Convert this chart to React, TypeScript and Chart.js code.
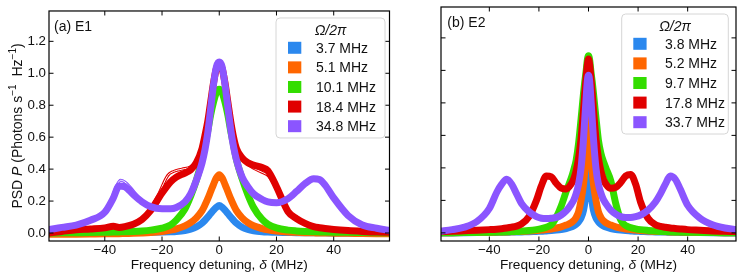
import { useEffect, useRef } from "react";
import { Chart, registerables } from "chart.js";

Chart.register(...registerables);

// ---------------- data ----------------
const X_TICKS = [-40, -20, 0, 20, 40];
const Y_TICKS = [0, 0.2, 0.4, 0.6, 0.8, 1.0, 1.2];
const X_MIN = -59.5;
const X_MAX = 59.5;
const Y_MIN = -0.05;
const Y_MAX = 1.39;

const E1_LABELS = ["3.7 MHz", "5.1 MHz", "10.1 MHz", "18.4 MHz", "34.8 MHz"];
const E2_LABELS = ["3.8 MHz", "5.2 MHz", "9.7 MHz", "17.8 MHz", "33.7 MHz"];

// Panel (a) E1 : detuning (MHz)
const E1_X = [-60, -55, -50, -45, -40, -37, -35, -33, -30, -27, -24, -20, -17, -15, -12, -10, -8, -6, -5, -4, -3, -2, -1, 0, 1, 2, 3, 4, 5, 6, 8, 10, 12, 15, 17, 20, 24, 27, 30, 33, 35, 37, 40, 45, 50, 55, 60];
const E1_BLUE = [0.0, 0.0, 0.0, 0.0, 0.001, 0.001, 0.002, 0.002, 0.003, 0.003, 0.004, 0.006, 0.008, 0.01, 0.016, 0.024, 0.038, 0.062, 0.08, 0.1, 0.122, 0.143, 0.161, 0.172, 0.161, 0.143, 0.122, 0.1, 0.08, 0.062, 0.036, 0.022, 0.014, 0.008, 0.006, 0.004, 0.003, 0.002, 0.002, 0.001, 0.001, 0.001, 0.0, 0.0, 0.0, 0.0, 0.0];
const E1_ORANGE = [-0.008, -0.008, -0.007, -0.006, -0.005, -0.004, -0.004, -0.003, -0.002, 0.0, 0.003, 0.01, 0.018, 0.026, 0.045, 0.065, 0.095, 0.14, 0.175, 0.215, 0.26, 0.305, 0.345, 0.365, 0.345, 0.305, 0.26, 0.215, 0.175, 0.14, 0.095, 0.065, 0.045, 0.028, 0.02, 0.012, 0.006, 0.004, 0.002, 0.001, 0.0, 0.0, -0.001, -0.002, -0.003, -0.004, -0.005];
const E1_GREEN = [0.0, 0.001, 0.002, 0.003, 0.005, 0.006, 0.007, 0.008, 0.01, 0.013, 0.018, 0.03, 0.05, 0.08, 0.15, 0.23, 0.33, 0.46, 0.55, 0.64, 0.74, 0.82, 0.88, 0.9, 0.88, 0.82, 0.74, 0.64, 0.55, 0.46, 0.34, 0.24, 0.16, 0.085, 0.055, 0.032, 0.018, 0.013, 0.01, 0.008, 0.007, 0.006, 0.005, 0.004, 0.003, 0.002, 0.001];
const E1_RED = [0.0, 0.01, 0.02, 0.025, 0.032, 0.042, 0.035, 0.04, 0.055, 0.085, 0.14, 0.25, 0.32, 0.35, 0.375, 0.395, 0.44, 0.53, 0.61, 0.7, 0.82, 0.94, 1.03, 1.06, 1.03, 0.94, 0.82, 0.7, 0.6, 0.53, 0.47, 0.44, 0.425, 0.41, 0.39, 0.29, 0.135, 0.09, 0.06, 0.04, 0.033, 0.028, 0.022, 0.015, 0.01, 0.006, 0.004];
const E1_PURPLE = [0.02, 0.035, 0.05, 0.08, 0.13, 0.22, 0.295, 0.29, 0.24, 0.195, 0.165, 0.152, 0.152, 0.16, 0.195, 0.245, 0.33, 0.44, 0.52, 0.63, 0.78, 0.93, 1.04, 1.07, 1.04, 0.93, 0.79, 0.65, 0.54, 0.46, 0.35, 0.29, 0.245, 0.21, 0.195, 0.19, 0.215, 0.26, 0.31, 0.34, 0.335, 0.3, 0.22, 0.11, 0.05, 0.03, 0.015];

// thin theory curves visible in panel (a)
const E1_FIT_PURPLE_X = [-44, -41, -38, -36, -34.5, -33, -31, -28, -25, -22, -19];
const E1_FIT_PURPLE_Y = [0.09, 0.125, 0.2, 0.29, 0.33, 0.32, 0.285, 0.22, 0.175, 0.155, 0.15];
const E1_FIT_RED_L_X = [-24, -21, -18, -16, -13, -10, -8, -6];
const E1_FIT_RED_L_Y = [0.15, 0.25, 0.36, 0.385, 0.4, 0.415, 0.45, 0.53];
const E1_FIT_RED_R_X = [6, 8, 10, 12, 15, 17, 19, 21];
const E1_FIT_RED_R_Y = [0.52, 0.46, 0.43, 0.405, 0.38, 0.36, 0.31, 0.24];

// Panel (b) E2 : detuning (MHz)
const E2_X = [-60, -55, -50, -45, -40, -37, -35, -33, -31, -29, -27, -24, -21, -19, -17, -15, -13, -11, -9, -7, -6, -5, -4, -3, -2, -1.5, -1, -0.5, 0, 0.5, 1, 1.5, 2, 3, 4, 5, 6, 7, 9, 11, 13, 15, 17, 19, 21, 24, 27, 29, 31, 33, 35, 37, 40, 45, 50, 55, 60];
const E2_BLUE = [0.0, 0.0, 0.001, 0.002, 0.003, 0.003, 0.004, 0.004, 0.005, 0.005, 0.006, 0.007, 0.009, 0.01, 0.012, 0.014, 0.017, 0.021, 0.027, 0.036, 0.043, 0.053, 0.068, 0.092, 0.14, 0.185, 0.26, 0.38, 0.49, 0.38, 0.26, 0.185, 0.14, 0.092, 0.068, 0.053, 0.043, 0.036, 0.027, 0.021, 0.017, 0.014, 0.012, 0.01, 0.009, 0.007, 0.006, 0.005, 0.005, 0.004, 0.004, 0.003, 0.003, 0.002, 0.001, 0.0, 0.0];
const E2_ORANGE = [0.0, 0.001, 0.002, 0.003, 0.004, 0.005, 0.005, 0.006, 0.007, 0.008, 0.009, 0.011, 0.014, 0.017, 0.02, 0.024, 0.03, 0.037, 0.048, 0.062, 0.075, 0.095, 0.13, 0.2, 0.3, 0.38, 0.49, 0.64, 0.77, 0.64, 0.49, 0.38, 0.3, 0.2, 0.13, 0.095, 0.075, 0.062, 0.048, 0.037, 0.03, 0.024, 0.02, 0.017, 0.014, 0.011, 0.009, 0.008, 0.007, 0.006, 0.005, 0.005, 0.004, 0.003, 0.002, 0.001, 0.0];
const E2_GREEN = [0.0, 0.001, 0.002, 0.003, 0.004, 0.005, 0.006, 0.007, 0.008, 0.009, 0.011, 0.014, 0.02, 0.026, 0.035, 0.05, 0.095, 0.165, 0.255, 0.335, 0.385, 0.445, 0.55, 0.7, 0.86, 0.93, 0.99, 1.06, 1.09, 1.06, 0.99, 0.93, 0.86, 0.71, 0.57, 0.49, 0.44, 0.4, 0.32, 0.18, 0.08, 0.045, 0.032, 0.025, 0.02, 0.015, 0.011, 0.009, 0.008, 0.007, 0.006, 0.005, 0.004, 0.003, 0.002, 0.001, 0.0];
const E2_RED = [0.008, 0.01, 0.013, 0.016, 0.02, 0.023, 0.026, 0.03, 0.035, 0.042, 0.055, 0.1, 0.2, 0.29, 0.35, 0.345, 0.305, 0.275, 0.27, 0.3, 0.33, 0.38, 0.46, 0.58, 0.76, 0.86, 0.95, 1.03, 1.07, 1.03, 0.95, 0.86, 0.76, 0.58, 0.46, 0.38, 0.33, 0.3, 0.275, 0.28, 0.31, 0.35, 0.36, 0.3, 0.19, 0.09, 0.05, 0.04, 0.035, 0.03, 0.027, 0.024, 0.02, 0.016, 0.012, 0.01, 0.008];
const E2_PURPLE = [0.01, 0.02, 0.035, 0.07, 0.15, 0.25, 0.3, 0.33, 0.3, 0.24, 0.18, 0.13, 0.1, 0.09, 0.088, 0.09, 0.095, 0.11, 0.135, 0.175, 0.2, 0.24, 0.3, 0.4, 0.58, 0.7, 0.82, 0.93, 0.97, 0.93, 0.82, 0.7, 0.58, 0.4, 0.3, 0.245, 0.205, 0.18, 0.14, 0.115, 0.1, 0.095, 0.095, 0.1, 0.11, 0.14, 0.19, 0.24, 0.3, 0.35, 0.33, 0.27, 0.17, 0.09, 0.05, 0.03, 0.02];

// ---------------- styles ----------------
const FONT = '"Liberation Sans", Arial, Helvetica, sans-serif';
const TEXT = "#111";
const COLORS = ["#2B88EE", "#FF6600", "#33DD00", "#E00000", "#8B55FF"];
const TICK_LEN = 4.5;
const LINE_W = 7;

type Seg = { t: string; it?: boolean; sup?: boolean };

function richFont(s: Seg, size: number) {
  return `${s.it ? "italic " : ""}${s.sup ? Math.round(size * 0.7) : size}px ${FONT}`;
}

function drawRich(ctx: CanvasRenderingContext2D, segs: Seg[], cx: number, cy: number, rot: number, size: number) {
  ctx.save();
  ctx.translate(cx, cy);
  ctx.rotate(rot);
  ctx.textAlign = "left";
  ctx.textBaseline = "alphabetic";
  ctx.fillStyle = TEXT;
  const widths = segs.map((s) => {
    ctx.font = richFont(s, size);
    return ctx.measureText(s.t).width;
  });
  const total = widths.reduce((a, b) => a + b, 0);
  let x = -total / 2;
  const base = size * 0.36;
  segs.forEach((s, i) => {
    ctx.font = richFont(s, size);
    ctx.fillText(s.t, x, s.sup ? base - size * 0.42 : base);
    x += widths[i];
  });
  ctx.restore();
}

const X_TITLE: Seg[] = [{ t: "Frequency detuning, " }, { t: "δ", it: true }, { t: " (MHz)" }];
const Y_TITLE: Seg[] = [
  { t: "PSD " },
  { t: "P", it: true },
  { t: " (Photons s" },
  { t: "−1", sup: true },
  { t: "  Hz" },
  { t: "−1", sup: true },
  { t: ")" },
];

const decorPlugin = {
  id: "decor",
  afterDatasetsDraw(chart: any, _args: any, opts: any) {
    const ctx: CanvasRenderingContext2D = chart.ctx;
    const a = chart.chartArea;
    const xs = chart.scales.x;
    const ys = chart.scales.y;
    ctx.save();
    // frame
    ctx.strokeStyle = "#000";
    ctx.lineWidth = 1.2;
    ctx.strokeRect(a.left, a.top, a.right - a.left, a.bottom - a.top);
    // inward ticks on all sides
    ctx.lineWidth = 1;
    ctx.beginPath();
    X_TICKS.forEach((v) => {
      const p = xs.getPixelForValue(v);
      ctx.moveTo(p, a.bottom);
      ctx.lineTo(p, a.bottom - TICK_LEN);
      ctx.moveTo(p, a.top);
      ctx.lineTo(p, a.top + TICK_LEN);
    });
    Y_TICKS.forEach((v) => {
      const p = ys.getPixelForValue(v);
      ctx.moveTo(a.left, p);
      ctx.lineTo(a.left + TICK_LEN, p);
      ctx.moveTo(a.right, p);
      ctx.lineTo(a.right - TICK_LEN, p);
    });
    ctx.stroke();

    // panel label
    ctx.fillStyle = TEXT;
    ctx.font = `14px ${FONT}`;
    ctx.textAlign = "left";
    ctx.textBaseline = "alphabetic";
    ctx.fillText(opts.label, a.left + opts.labelDx, a.top + 19.7);

    // legend
    const lg = opts.legend;
    const bx = a.right - lg.rightInset - lg.w;
    const by = a.top + 7;
    const r = 4;
    ctx.beginPath();
    ctx.moveTo(bx + r, by);
    ctx.lineTo(bx + lg.w - r, by);
    ctx.quadraticCurveTo(bx + lg.w, by, bx + lg.w, by + r);
    ctx.lineTo(bx + lg.w, by + lg.h - r);
    ctx.quadraticCurveTo(bx + lg.w, by + lg.h, bx + lg.w - r, by + lg.h);
    ctx.lineTo(bx + r, by + lg.h);
    ctx.quadraticCurveTo(bx, by + lg.h, bx, by + lg.h - r);
    ctx.lineTo(bx, by + r);
    ctx.quadraticCurveTo(bx, by, bx + r, by);
    ctx.closePath();
    ctx.fillStyle = "rgba(255,255,255,0.85)";
    ctx.fill();
    ctx.strokeStyle = "#d6d6d6";
    ctx.lineWidth = 1;
    ctx.stroke();
    drawRich(ctx, [{ t: "Ω/2π", it: true }], bx + lg.w / 2, a.top + 19, 0, 14);
    const items = chart.data.datasets.filter((d: any) => d.inLegend);
    items.forEach((d: any, i: number) => {
      const cy = a.top + 36.8 + 19.6 * i;
      ctx.fillStyle = d.borderColor;
      ctx.fillRect(bx + lg.sqX, cy - 6, 13.3, 12);
      ctx.fillStyle = TEXT;
      ctx.font = `14px ${FONT}`;
      ctx.textAlign = "left";
      ctx.textBaseline = "alphabetic";
      ctx.fillText(d.label, bx + lg.txtX, cy + 5);
    });

    // axis titles
    drawRich(ctx, X_TITLE, (a.left + a.right) / 2, a.bottom + 23.3, 0, 13.7);
    if (opts.yTitle) {
      drawRich(ctx, Y_TITLE, 17.3, (a.top + a.bottom) / 2, -Math.PI / 2, 14);
    }
    ctx.restore();
  },
};

function pts(xs: number[], ys: number[]) {
  return xs.map((x, i) => ({ x, y: ys[i] }));
}

function thick(label: string, color: string, xs: number[], ys: number[], order: number) {
  return {
    label,
    data: pts(xs, ys),
    borderColor: color,
    backgroundColor: color,
    borderWidth: LINE_W,
    pointRadius: 0,
    fill: false,
    cubicInterpolationMode: "monotone",
    borderJoinStyle: "round",
    borderCapStyle: "round",
    order,
    inLegend: true,
  };
}

function fitLines(color: string, xs: number[], ys: number[]) {
  const base = {
    data: pts(xs, ys),
    pointRadius: 0,
    fill: false,
    cubicInterpolationMode: "monotone",
    label: "fit",
    inLegend: false,
  };
  return [
    { ...base, borderColor: "#ffffff", borderWidth: 1, order: 10 },
    { ...base, borderColor: color, borderWidth: 3, order: 11 },
  ];
}

type Panel = {
  label: string;
  canvasLeft: number;
  width: number;
  padLeft: number;
  padRight: number;
  showY: boolean;
  labelDx: number;
  legend: { rightInset: number; w: number; h: number; sqX: number; txtX: number };
  datasets: any[];
};

const PANELS: Panel[] = [
  {
    label: "(a) E1",
    canvasLeft: 0,
    width: 392,
    padLeft: 0,
    padRight: 2.5,
    showY: true,
    labelDx: 5,
    legend: { rightInset: 4.5, w: 109, h: 120, sqX: 12, txtX: 40 },
    datasets: [
      thick(E1_LABELS[0], COLORS[0], E1_X, E1_BLUE, 5),
      thick(E1_LABELS[1], COLORS[1], E1_X, E1_ORANGE, 4),
      thick(E1_LABELS[2], COLORS[2], E1_X, E1_GREEN, 3),
      thick(E1_LABELS[3], COLORS[3], E1_X, E1_RED, 2),
      thick(E1_LABELS[4], COLORS[4], E1_X, E1_PURPLE, 1),
      ...fitLines(COLORS[4], E1_FIT_PURPLE_X, E1_FIT_PURPLE_Y),
      ...fitLines(COLORS[3], E1_FIT_RED_L_X, E1_FIT_RED_L_Y),
      ...fitLines(COLORS[3], E1_FIT_RED_R_X, E1_FIT_RED_R_Y),
    ],
  },
  {
    label: "(b) E2",
    canvasLeft: 390,
    width: 357,
    padLeft: 2,
    padRight: 11,
    showY: false,
    labelDx: 6.3,
    legend: { rightInset: 7.7, w: 106.6, h: 120, sqX: 11.6, txtX: 43.3 },
    datasets: [
      thick(E2_LABELS[0], COLORS[0], E2_X, E2_BLUE, 5),
      thick(E2_LABELS[1], COLORS[1], E2_X, E2_ORANGE, 4),
      thick(E2_LABELS[2], COLORS[2], E2_X, E2_GREEN, 3),
      thick(E2_LABELS[3], COLORS[3], E2_X, E2_RED, 2),
      thick(E2_LABELS[4], COLORS[4], E2_X, E2_PURPLE, 1),
    ],
  },
];

function makeConfig(p: Panel): any {
  const tickFont = { family: FONT, size: 13.3 };
  return {
    type: "line",
    data: { datasets: p.datasets },
    plugins: [decorPlugin],
    options: {
      responsive: false,
      animation: false,
      devicePixelRatio: 1,
      events: [],
      layout: { padding: { left: p.padLeft, right: p.padRight, top: 7, bottom: 0 } },
      plugins: {
        legend: { display: false },
        tooltip: { enabled: false },
        decor: { label: p.label, labelDx: p.labelDx, legend: p.legend, yTitle: p.showY },
      },
      scales: {
        x: {
          type: "linear",
          min: X_MIN,
          max: X_MAX,
          afterBuildTicks: (s: any) => {
            s.ticks = X_TICKS.map((value) => ({ value }));
          },
          afterFit: (s: any) => {
            s.height = 35;
          },
          grid: { display: false, drawTicks: false },
          border: { display: false },
          ticks: {
            padding: 1,
            autoSkip: false,
            maxRotation: 0,
            color: TEXT,
            font: tickFont,
            callback: (v: number) => (v < 0 ? "\u2212" + Math.abs(v) : String(v)),
          },
        },
        y: {
          type: "linear",
          display: p.showY,
          min: Y_MIN,
          max: Y_MAX,
          afterBuildTicks: (s: any) => {
            s.ticks = Y_TICKS.map((value) => ({ value }));
          },
          afterFit: (s: any) => {
            s.width = 49;
          },
          grid: { display: false, drawTicks: false },
          border: { display: false },
          ticks: {
            padding: 3,
            autoSkip: false,
            color: TEXT,
            font: tickFont,
            callback: (v: number) => v.toFixed(1),
          },
        },
      },
    },
  };
}

export default function App() {
  const leftRef = useRef<HTMLCanvasElement>(null);
  const rightRef = useRef<HTMLCanvasElement>(null);

  useEffect(() => {
    const c1 = new Chart(leftRef.current as HTMLCanvasElement, makeConfig(PANELS[0]));
    const c2 = new Chart(rightRef.current as HTMLCanvasElement, makeConfig(PANELS[1]));
    return () => {
      c1.destroy();
      c2.destroy();
    };
  }, []);

  return (
    <div
      style={{
        position: "absolute",
        left: 0,
        top: 0,
        width: 747,
        height: 276,
        background: "#fff",
        overflow: "hidden",
      }}
    >
      <canvas
        ref={leftRef}
        width={PANELS[0].width}
        height={276}
        style={{ position: "absolute", left: PANELS[0].canvasLeft, top: 0 }}
      />
      <canvas
        ref={rightRef}
        width={PANELS[1].width}
        height={276}
        style={{ position: "absolute", left: PANELS[1].canvasLeft, top: 0 }}
      />
    </div>
  );
}
